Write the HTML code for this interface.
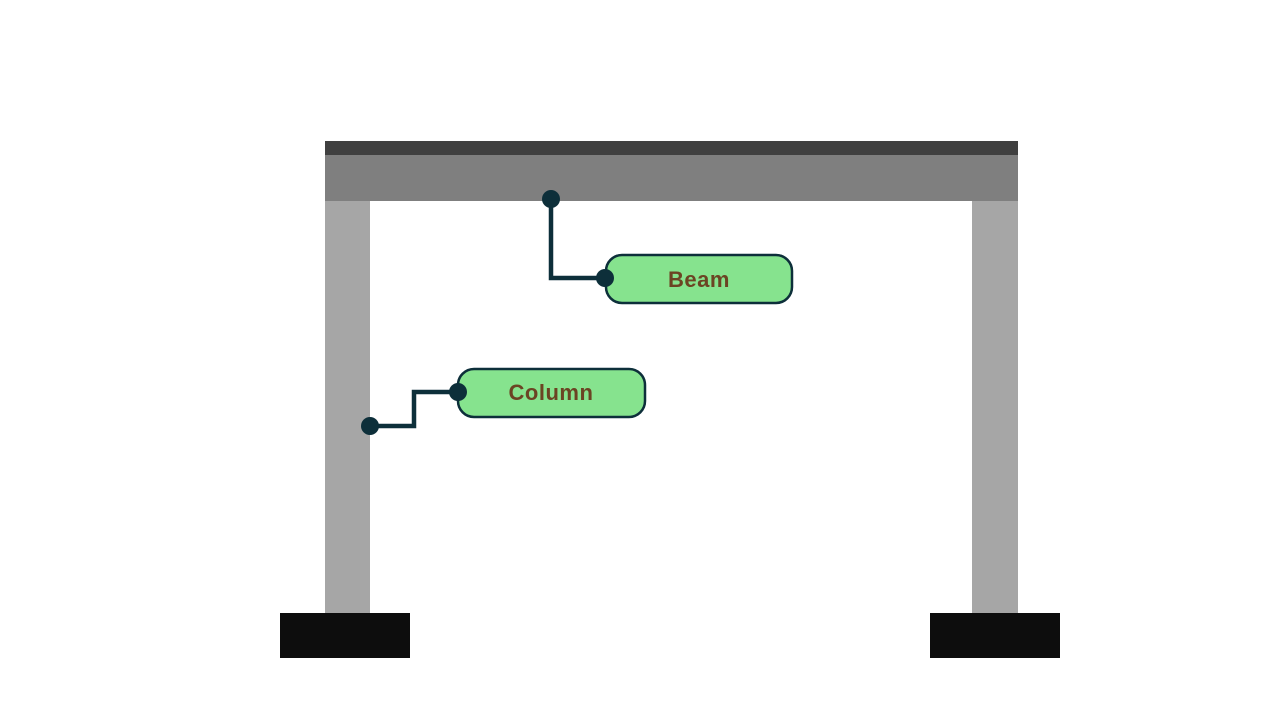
<!DOCTYPE html>
<html><head><meta charset="utf-8"><style>
html,body{margin:0;padding:0;background:#fff;width:1280px;height:720px;overflow:hidden}
</style></head><body>
<svg width="1280" height="720" xmlns="http://www.w3.org/2000/svg">
<rect x="325" y="141" width="693" height="14" fill="#404040"/>
<rect x="325" y="155" width="693" height="46" fill="#7f7f7f"/>
<rect x="325" y="201" width="45" height="412" fill="#a6a6a6"/>
<rect x="972" y="201" width="46" height="412" fill="#a6a6a6"/>
<rect x="280" y="613" width="130" height="45" fill="#0d0d0d"/>
<rect x="930" y="613" width="130" height="45" fill="#0d0d0d"/>
<polyline points="551,199 551,278 606,278" fill="none" stroke="#0d2f3a" stroke-width="4.5"/>
<polyline points="370,426 414,426 414,392 458,392" fill="none" stroke="#0d2f3a" stroke-width="4.5"/>
<rect x="606" y="255" width="186" height="48" rx="16" fill="#86e38e" stroke="#0d2f3a" stroke-width="2.5"/>
<rect x="458" y="369" width="187" height="48" rx="16" fill="#86e38e" stroke="#0d2f3a" stroke-width="2.5"/>
<circle cx="551" cy="199" r="9" fill="#0d2f3a"/>
<circle cx="605" cy="278" r="9" fill="#0d2f3a"/>
<circle cx="370" cy="426" r="9" fill="#0d2f3a"/>
<circle cx="458" cy="392" r="9" fill="#0d2f3a"/>
<text x="699" y="287" text-anchor="middle" font-family="Liberation Sans, sans-serif" font-weight="bold" font-size="22" letter-spacing="0.5" fill="#6b4423">Beam</text>
<text x="551" y="400" text-anchor="middle" font-family="Liberation Sans, sans-serif" font-weight="bold" font-size="22" letter-spacing="0.5" fill="#6b4423">Column</text>
</svg>
</body></html>
